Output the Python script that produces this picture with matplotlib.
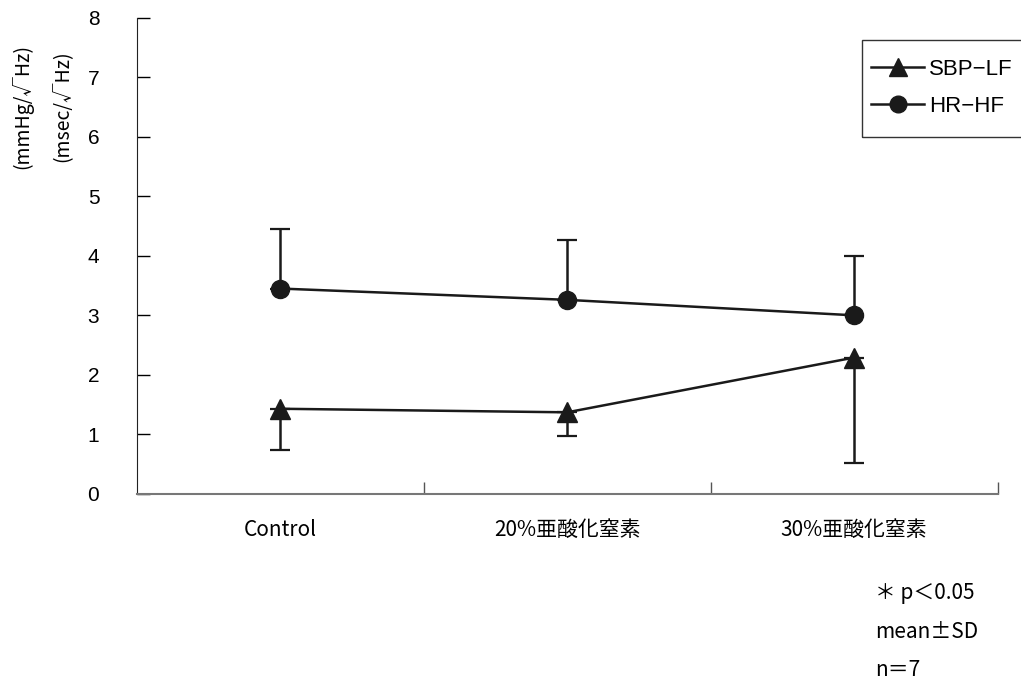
import numpy as np
import matplotlib.pyplot as plt
from matplotlib.lines import Line2D
from matplotlib.patches import Rectangle

plt.rcParams['font.family'] = ['Liberation Sans', 'Noto Sans CJK JP', 'DejaVu Sans']

groups = ['Control', '20%亜酸化窒素', '30%亜酸化窒素']

# HR-HF (msec/√Hz): mean and SD (upper bar only)
hr_mean = [3.45, 3.26, 3.00]
hr_sd = [1.00, 1.00, 1.00]

# SBP-LF (mmHg/√Hz): mean and SD (lower bar only)
sbp_mean = [1.43, 1.37, 2.29]
sbp_sd = [0.69, 0.40, 1.77]

notes = ['＊ p＜0.05', 'mean±SD', 'n＝7']

fig = plt.figure(figsize=(10.21, 6.84), dpi=100)
ax = fig.add_axes([0.134, 0.278, 0.843, 0.696])

x = np.arange(len(groups))
zeros = np.zeros(len(groups))
ink = '#1a1a1a'

ax.errorbar(x, sbp_mean, yerr=[sbp_sd, zeros], color=ink, lw=1.8,
            marker='^', markersize=14, capsize=7, elinewidth=1.8,
            capthick=1.6, zorder=3)
ax.errorbar(x, hr_mean, yerr=[zeros, hr_sd], color=ink, lw=1.8,
            marker='o', markersize=13, capsize=7, elinewidth=1.8,
            capthick=1.6, zorder=3)

ax.set_xlim(-0.5, 2.5)
ax.set_ylim(0, 8)
ax.set_yticks(range(0, 9))
ax.set_xticks([0.5, 1.5, 2.5])
ax.set_xticklabels([])
ax.tick_params(axis='y', direction='in', length=9, width=1, labelsize=15, pad=27)
ax.tick_params(axis='x', direction='in', length=9, width=1, colors='#555555')
ax.spines['top'].set_visible(False)
ax.spines['right'].set_visible(False)
ax.spines['left'].set_color('#222222')
ax.spines['bottom'].set_color('#777777')
ax.spines['bottom'].set_linewidth(1.5)

for i, g in enumerate(groups):
    ax.text(i, -0.6, g, ha='center', va='center', fontsize=15,
            family=['Noto Sans CJK JP', 'DejaVu Sans'])

# y-axis units
fig.text(0.022, 0.845, '(mmHg/√Hz)', rotation=90, ha='center', va='center',
         fontsize=14, family=['Noto Sans CJK JP', 'DejaVu Sans'])
fig.text(0.061, 0.845, '(msec/√Hz)', rotation=90, ha='center', va='center',
         fontsize=14, family=['Noto Sans CJK JP', 'DejaVu Sans'])

# legend box runs off the right edge, so draw the frame by hand
fig.patches.append(Rectangle((862 / 1021, 1 - 137 / 684), 0.2, 97 / 684,
                             transform=fig.transFigure, fill=False,
                             edgecolor='#333333', lw=1.0))
handles = [
    Line2D([], [], color=ink, lw=1.8, marker='^', markersize=13),
    Line2D([], [], color=ink, lw=1.8, marker='o', markersize=12),
]
leg = fig.legend(handles, ['SBP\u2212LF', 'HR\u2212HF'], loc='center left',
                 bbox_to_anchor=(871 / 1021, 1 - 88 / 684), fontsize=16,
                 frameon=False, borderpad=0, borderaxespad=0,
                 handlelength=2.4, handletextpad=0.2, labelspacing=0.7)

for k, t in enumerate(notes):
    fig.text(0.857, 1 - (593 + 38.5 * k) / 684, t, ha='left', va='center',
             fontsize=15, family=['Noto Sans CJK JP', 'DejaVu Sans'])

fig.savefig('out.png', dpi=100)
